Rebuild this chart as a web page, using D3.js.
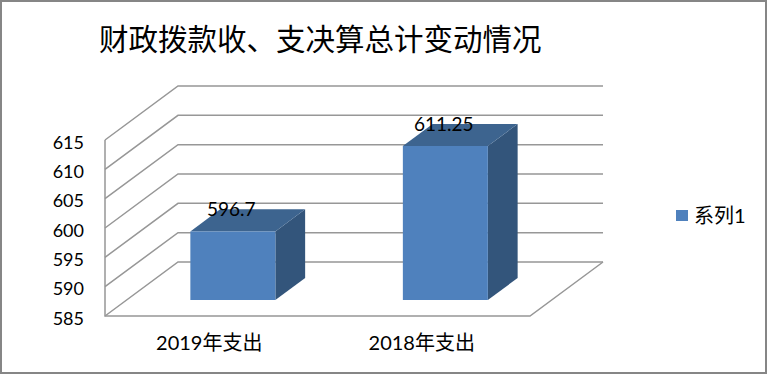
<!DOCTYPE html>
<html>

<head>
    <meta charset="utf-8">
    <title>财政拨款收、支决算总计变动情况</title>
    <script src="https://cdn.jsdelivr.net/npm/d3@7"></script>
    <style>
        html, body { margin: 0; padding: 0; background: #fff; }
        svg { display: block; }
        text { font-family: Lato, "Noto Sans CJK SC", sans-serif; fill: #000; }
    </style>
</head>

<body>
    <script>
        var chartTitle = '财政拨款收、支决算总计变动情况'
        var categories = ['2019年支出', '2018年支出']
        var values = [596.7, 611.25]
        var yTicks = [585, 590, 595, 600, 605, 610, 615]
        var seriesName = '系列1'

        var width = 767, height = 374
        var floorY = 316, topY = 140, floorX0 = 105, floorX1 = 530
        var depthX = 73, depthY = -54

        var svg = d3.select('body').append('svg')
            .attr('width', width)
            .attr('height', height)

        svg.append('rect')
            .attr('x', 1).attr('y', 1)
            .attr('width', width - 2).attr('height', height - 2)
            .attr('fill', '#fff')
            .attr('stroke', '#868686')
            .attr('stroke-width', 2)

        var x = d3.scaleBand().domain(categories).range([floorX0, floorX1]).paddingInner(0.6).paddingOuter(0.3)
        var y = d3.scaleLinear().domain([585, 615]).range([floorY, topY])

        // move a front-plane point back into the box, d goes 0..1
        function px(xv, d) { return xv + depthX * d }
        function py(yv, d) { return yv + depthY * d }
        function poly(pts) { return d3.line()(pts) + 'Z' }

        var gridColor = '#979797'

        // walls: gridlines on the left side and the back
        var grid = svg.append('g').attr('fill', 'none').attr('stroke', gridColor).attr('stroke-width', 1.5)
        yTicks.forEach(function (t) {
            grid.append('path').attr('d', d3.line()([
                [px(floorX0, 0), py(y(t), 0)],
                [px(floorX0, 1), py(y(t), 1)],
                [px(floorX1, 1), py(y(t), 1)]
            ]))
        })
        grid.append('path').attr('d', d3.line()([
            [floorX0, y(615)], [floorX0, y(585)], [floorX1, y(585)], [px(floorX1, 1), py(y(585), 1)]
        ]))

        // bars
        var barD0 = 0.296, barD1 = 0.704
        var bars = svg.append('g').selectAll('g')
            .data(values)
            .enter().append('g')

        function barPts(v, i) {
            var l = px(x(categories[i]), barD0)
            var r = l + x.bandwidth()
            var t = py(y(v), barD0)
            var b = py(y(585), barD0)
            var dx = depthX * (barD1 - barD0), dy = depthY * (barD1 - barD0)
            return { l: l, r: r, t: t, b: b, dx: dx, dy: dy }
        }

        bars.append('path') // side
            .attr('fill', '#33557b')
            .attr('d', function (v, i) {
                var p = barPts(v, i)
                return poly([[p.r, p.t], [p.r + p.dx, p.t + p.dy], [p.r + p.dx, p.b + p.dy], [p.r, p.b]])
            })
        bars.append('path') // top
            .attr('fill', '#3d648f')
            .attr('d', function (v, i) {
                var p = barPts(v, i)
                return poly([[p.l, p.t], [p.l + p.dx, p.t + p.dy], [p.r + p.dx, p.t + p.dy], [p.r, p.t]])
            })
        bars.append('path') // front
            .attr('fill', '#4f81bd')
            .attr('d', function (v, i) {
                var p = barPts(v, i)
                return poly([[p.l, p.t], [p.r, p.t], [p.r, p.b], [p.l, p.b]])
            })

        bars.append('text')
            .attr('x', function (v, i) { var p = barPts(v, i); return (p.l + p.r) / 2 - 1.5 })
            .attr('y', function (v, i) { return barPts(v, i).t - 15 })
            .attr('text-anchor', 'middle')
            .attr('font-size', 19)
            .text(function (v) { return v })

        // axes
        var yAxis = svg.append('g')
            .attr('transform', 'translate(' + (floorX0 - 21) + ',2.5)')
            .call(d3.axisLeft(y).tickValues(yTicks).tickSize(0).tickPadding(0))
        yAxis.select('.domain').remove()
        yAxis.selectAll('text').style('font-size', '18px').style('font-family', null)

        var xAxis = svg.append('g')
            .attr('transform', 'translate(-2,' + (floorY + 20) + ')')
            .call(d3.axisBottom(x).tickSize(0).tickPadding(0))
        xAxis.select('.domain').remove()
        xAxis.selectAll('text').style('font-size', '20px').style('font-family', null)

        // title
        svg.append('text')
            .attr('x', 99).attr('y', 50)
            .attr('font-size', 29.5)
            .text(chartTitle)

        // legend
        svg.append('rect')
            .attr('x', 676).attr('y', 210)
            .attr('width', 12).attr('height', 11)
            .attr('fill', '#4f81bd')
        svg.append('text')
            .attr('x', 694).attr('y', 223)
            .attr('font-size', 20)
            .text(seriesName)
    </script>
</body>

</html>
